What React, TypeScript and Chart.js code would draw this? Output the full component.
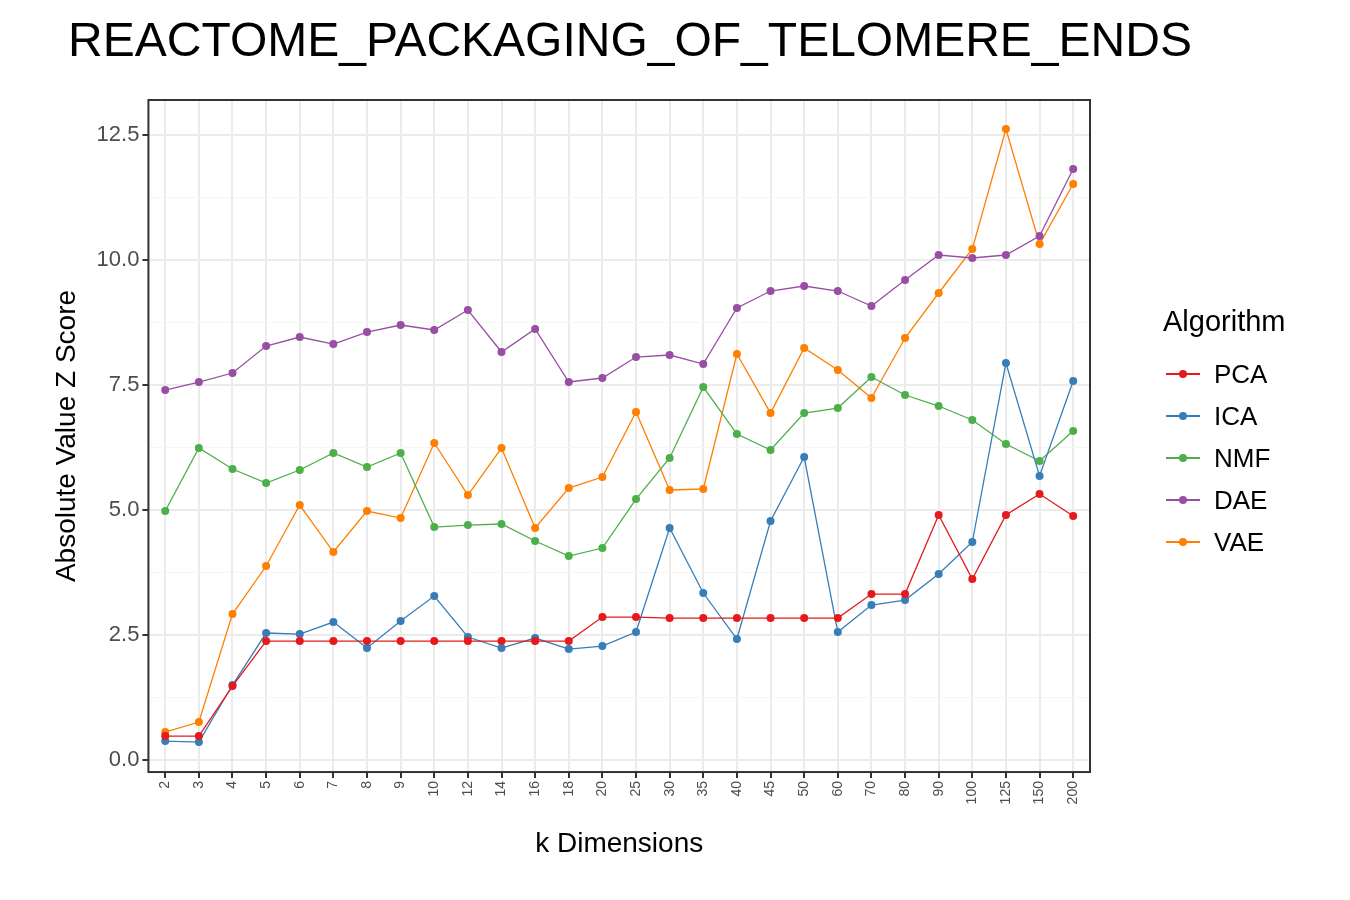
import { useEffect, useRef } from 'react';
import { Chart, registerables } from 'chart.js';

Chart.register(...registerables);

const dims = ['2', '3', '4', '5', '6', '7', '8', '9', '10', '12', '14', '16', '18', '20', '25', '30', '35', '40', '45', '50', '60', '70', '80', '90', '100', '125', '150', '200'];
const pca = [0.48, 0.48, 1.48, 2.38, 2.38, 2.38, 2.38, 2.38, 2.38, 2.38, 2.38, 2.38, 2.38, 2.86, 2.86, 2.84, 2.84, 2.84, 2.84, 2.84, 2.84, 3.32, 3.32, 4.9, 3.62, 4.9, 5.32, 4.88];
const ica = [0.38, 0.36, 1.5, 2.54, 2.52, 2.76, 2.24, 2.78, 3.28, 2.46, 2.24, 2.44, 2.22, 2.28, 2.56, 4.64, 3.34, 2.42, 4.78, 6.06, 2.56, 3.1, 3.2, 3.72, 4.36, 7.94, 5.68, 7.58];
const nmf = [4.98, 6.24, 5.82, 5.54, 5.8, 6.14, 5.86, 6.14, 4.66, 4.7, 4.72, 4.38, 4.08, 4.24, 5.22, 6.04, 7.46, 6.52, 6.2, 6.94, 7.04, 7.66, 7.3, 7.08, 6.8, 6.32, 5.98, 6.58];
const dae = [7.4, 7.56, 7.74, 8.28, 8.46, 8.32, 8.56, 8.7, 8.6, 9.0, 8.16, 8.62, 7.56, 7.64, 8.06, 8.1, 7.92, 9.04, 9.38, 9.48, 9.38, 9.08, 9.6, 10.1, 10.04, 10.1, 10.48, 11.82];
const vae = [0.56, 0.76, 2.92, 3.88, 5.1, 4.16, 4.98, 4.84, 6.34, 5.3, 6.24, 4.64, 5.44, 5.66, 6.96, 5.4, 5.42, 8.12, 6.94, 8.24, 7.8, 7.24, 8.44, 9.34, 10.22, 12.62, 10.32, 11.52];
const yTicks = [0, 1.25, 2.5, 3.75, 5, 6.25, 7.5, 8.75, 10, 11.25, 12.5];

const series = [
  { label: 'PCA', data: pca, color: '#E41A1C' },
  { label: 'ICA', data: ica, color: '#377EB8' },
  { label: 'NMF', data: nmf, color: '#4DAF4A' },
  { label: 'DAE', data: dae, color: '#984EA3' },
  { label: 'VAE', data: vae, color: '#FF7F00' },
];

const FONT = 'Liberation Sans, Arial, sans-serif';

const boxPlugin = {
  id: 'box',
  afterDraw(chart: any) {
    const { ctx, chartArea: a } = chart;
    ctx.save();
    ctx.strokeStyle = '#333';
    ctx.lineWidth = 2;
    ctx.strokeRect(a.left, a.top, a.right - a.left, a.bottom - a.top);
    ctx.restore();
  },
};

export default function App() {
  const ref = useRef<HTMLCanvasElement>(null);
  useEffect(() => {
    if (!ref.current) return;
    const chart = new Chart(ref.current, {
      type: 'line',
      data: {
        labels: dims,
        datasets: series.map((s) => ({
          label: s.label,
          data: s.data,
          borderColor: s.color,
          backgroundColor: s.color,
          borderWidth: 1.3,
          pointRadius: 4,
          pointBorderWidth: 0,
          tension: 0,
        })),
      },
      options: {
        animation: false,
        responsive: false,
        layout: { padding: { left: 46, right: 260, top: 100, bottom: 35 } },
        plugins: {
          legend: { display: false },
          tooltip: { enabled: false },
        },
        scales: {
          x: {
            offset: true,
            grid: { color: '#ebebeb', lineWidth: 2, offset: false, tickColor: '#333', tickLength: 6 },
            border: { display: false },
            ticks: { color: '#4d4d4d', maxRotation: 90, minRotation: 90, font: { family: FONT, size: 14 } },
            title: { display: true, text: 'k Dimensions', color: '#000', font: { family: FONT, size: 28 }, padding: { top: 20 } },
          },
          y: {
            min: -0.24,
            max: 13.2,
            afterBuildTicks: (ax: any) => { ax.ticks = yTicks.map((v) => ({ value: v })); },
            grid: {
              color: (c: any) => (c.tick && c.tick.value % 2.5 === 0 ? '#ebebeb' : '#f5f5f5'),
              lineWidth: (c: any) => (c.tick && c.tick.value % 2.5 === 0 ? 2 : 1),
              tickColor: (c: any) => (c.tick && c.tick.value % 2.5 === 0 ? '#333' : 'rgba(0,0,0,0)'),
              tickLength: 6,
            },
            border: { display: false },
            ticks: {
              color: '#4d4d4d',
              font: { family: FONT, size: 22 },
              callback: (v: any) => (Number(v) % 2.5 === 0 ? Number(v).toFixed(1) : ''),
            },
            title: { display: true, text: 'Absolute Value Z Score', color: '#000', font: { family: FONT, size: 28 }, padding: { bottom: 10 } },
          },
        },
      },
      plugins: [boxPlugin],
    } as any);
    return () => chart.destroy();
  }, []);
  return (
    <div style={{ position: 'absolute', left: 0, top: 0, width: 1350, height: 900, background: '#fff', overflow: 'hidden', fontFamily: FONT }}>
      <canvas ref={ref} width={1350} height={900} />
      <div style={{ position: 'absolute', left: 630, top: 12, transform: 'translateX(-50%)', whiteSpace: 'nowrap', fontSize: 48, color: '#000' }}>
        REACTOME_PACKAGING_OF_TELOMERE_ENDS
      </div>
      <div style={{ position: 'absolute', left: 1163, top: 305, fontSize: 29, color: '#000' }}>Algorithm</div>
      {series.map((s, i) => (
        <div key={s.label} style={{ position: 'absolute', left: 1166, top: 358 + i * 42, height: 32, display: 'flex', alignItems: 'center' }}>
          <div style={{ position: 'relative', width: 34, height: 32 }}>
            <div style={{ position: 'absolute', left: 0, top: 15, width: 34, height: 2, background: s.color }} />
            <div style={{ position: 'absolute', left: 13, top: 12, width: 8, height: 8, borderRadius: 4, background: s.color }} />
          </div>
          <span style={{ marginLeft: 14, fontSize: 26, color: '#000' }}>{s.label}</span>
        </div>
      ))}
    </div>
  );
}
